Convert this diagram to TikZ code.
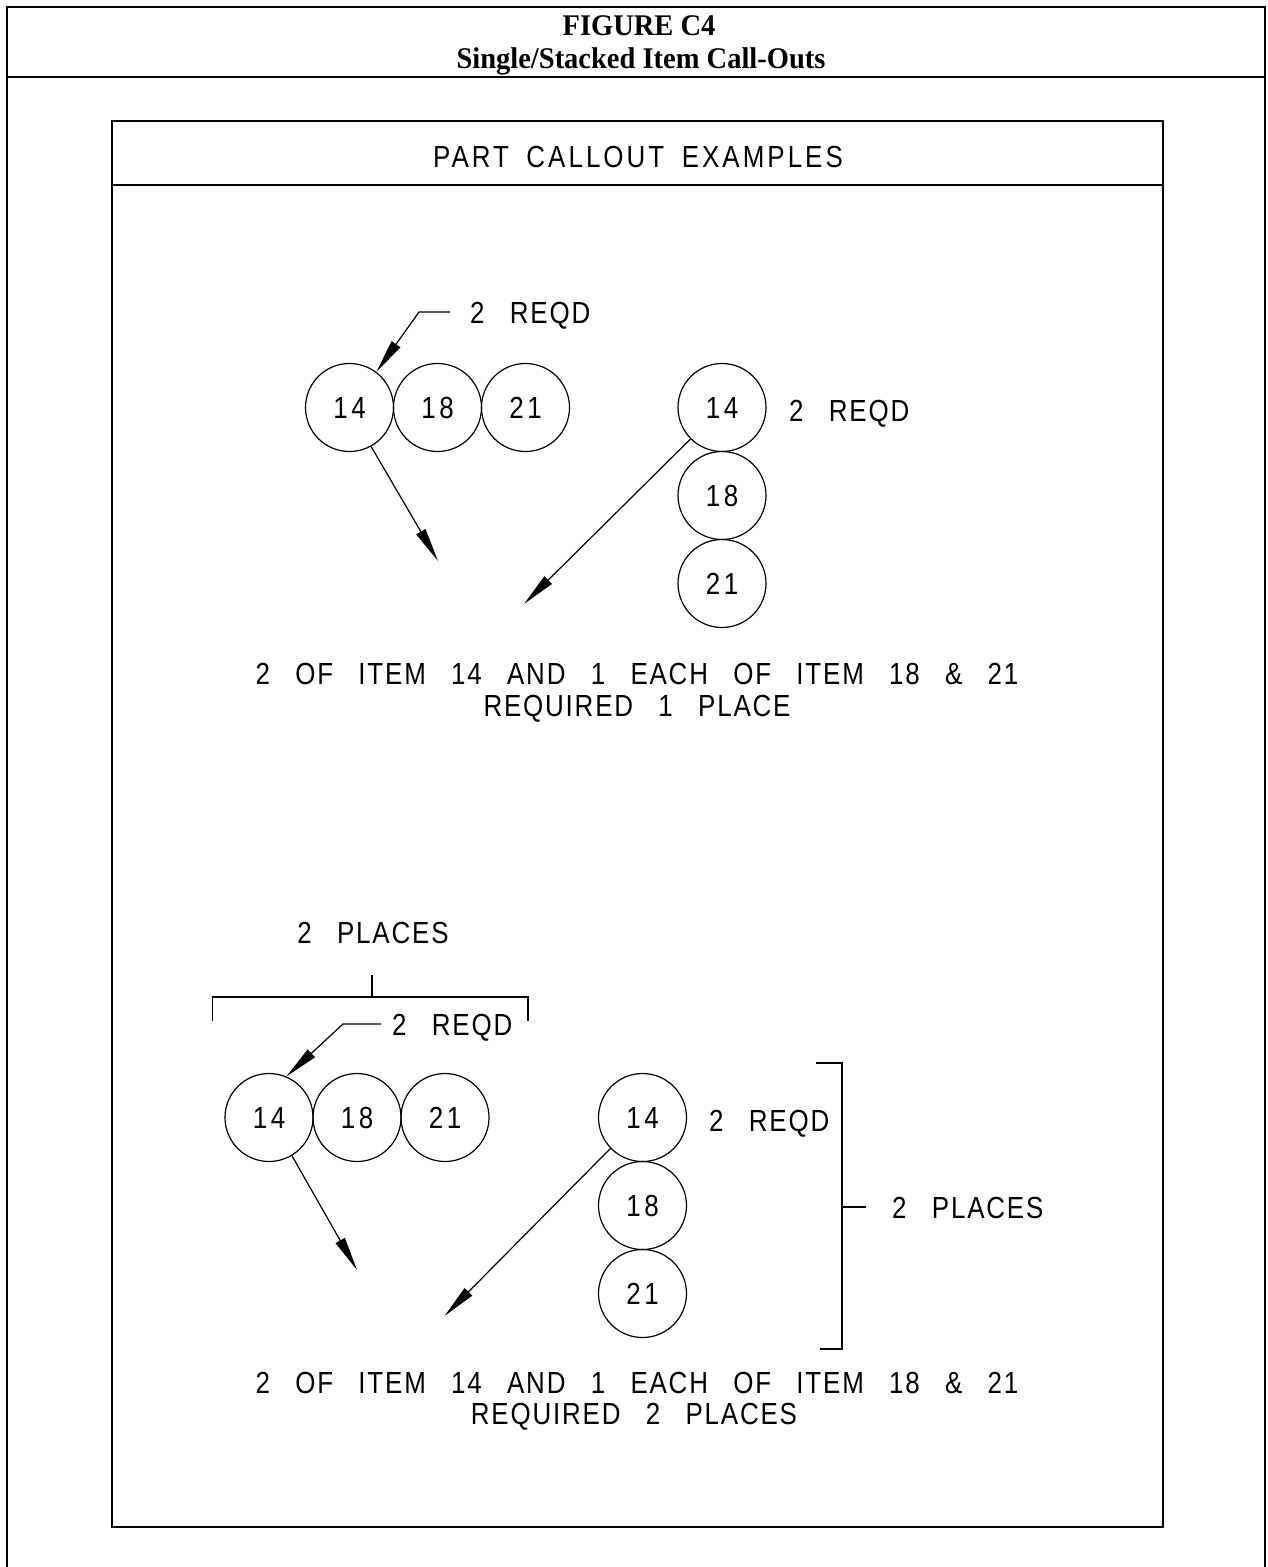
\documentclass[tikz,border=0pt]{standalone}
\usepackage{fontspec}
\setmainfont{Liberation Serif}
\newfontfamily\headfont[FakeStretch=0.95]{Liberation Serif}
\newfontfamily\cad[FakeStretch=0.85,LetterSpace=6,WordSpace=2.8]{Liberation Sans}
\newfontfamily\cadnum[FakeStretch=0.85,LetterSpace=12]{Liberation Sans}
\newfontfamily\cadtitle[FakeStretch=0.85,LetterSpace=10,WordSpace=1.7]{Liberation Sans}
\usetikzlibrary{arrows.meta}
\begin{document}
\begin{tikzpicture}[x=1pt,y=-1pt,
  frame/.style={line width=2pt},
  box/.style={line width=1.6pt},
  item/.style={circle,draw,line width=1.2pt,minimum size=88pt,inner sep=0pt,font=\cadnum\fontsize{30.5}{30.5}\selectfont},
  lbl/.style={inner sep=0pt,font=\cad\fontsize{30.5}{30.5}\selectfont},
  ttl/.style={inner sep=0pt,font=\cadtitle\fontsize{30.5}{30.5}\selectfont},
  lead/.style={line width=1.2pt},
  arr/.style={line width=1.2pt,-{Triangle[length=34pt,width=10.5pt]}},
  head/.style={inner sep=0pt,font=\headfont\bfseries\fontsize{30}{32}\selectfont}]

\useasboundingbox (0,0) rectangle (1267,1567);
\fill[white] (0,0) rectangle (1267,1567);

% outer frame
\draw[frame] (7,1567) -- (7,7) -- (1265,7) -- (1265,1567);
\draw[frame] (7,77) -- (1265,77);
\node[head,anchor=base] (fig) at (639,35) {FIGURE C4};
\node[head,anchor=base] (sub) at (641,68) {Single/Stacked Item Call-Outs};

% inner box
\draw[box] (112,121) rectangle (1163,1527);
\draw[box] (112,185) -- (1163,185);
\node[ttl,anchor=base] (pce) at (638,167) {PART CALLOUT EXAMPLES};

% ---------- top example ----------
\node[item] (c14a) at (349.5,407.5) {14};
\node[item] (c18a) at (437.5,407.5) {18};
\node[item] (c21a) at (525.5,407.5) {21};
\node[lbl,anchor=base west] (rqa) at (470,323.5) {2 REQD};
\coordinate (la1) at (450,312);
\coordinate (la2) at (419,312);
\draw[arr] (la1) -- (la2) -- (c14a.53);
\coordinate (pa) at (438,561);
\draw[arr] (c14a.-61) -- (pa);

\node[item] (s14a) at (722,407.5) {14};
\node[item] (s18a) at (722,495.5) {18};
\node[item] (s21a) at (722,583.5) {21};
\node[lbl,anchor=base west] (rqa2) at (789,421) {2 REQD};
\coordinate (qa) at (524,604);
\draw[arr] (s14a.-135) -- (qa);

\node[lbl,anchor=base] (txa1) at (637,684) {2 OF ITEM 14 AND 1 EACH OF ITEM 18 \& 21};
\node[lbl,anchor=base] (txa2) at (637,716) {REQUIRED 1 PLACE};

% ---------- bottom example ----------
\node[lbl,anchor=base] (plb) at (373,943) {2 PLACES};
\coordinate (tk1) at (372,975);
\coordinate (tk2) at (372,997);
\coordinate (bl1) at (212.5,1021);
\coordinate (bl2) at (212.5,997);
\coordinate (br2) at (528,997);
\coordinate (br1) at (528,1021);
\draw[lead] (tk1) -- (tk2);
\draw[lead] (bl1) -- (bl2) -- (br2) -- (br1);

\node[item] (c14b) at (269,1117.5) {14};
\node[item] (c18b) at (357,1117.5) {18};
\node[item] (c21b) at (445,1117.5) {21};
\node[lbl,anchor=base west] (rqb) at (392,1035) {2 REQD};
\coordinate (lb1) at (381,1024);
\coordinate (lb2) at (343,1024);
\draw[arr] (lb1) -- (lb2) -- (c14b.67);
\coordinate (pb) at (357,1270);
\draw[arr] (c14b.-59) -- (pb);

\node[item] (s14b) at (642.5,1117.5) {14};
\node[item] (s18b) at (642.5,1205.5) {18};
\node[item] (s21b) at (642.5,1293.5) {21};
\node[lbl,anchor=base west] (rqb2) at (709,1131) {2 REQD};
\coordinate (qb) at (444.5,1316);
\draw[arr] (s14b.-136) -- (qb);

\coordinate (rb1) at (816,1063);
\coordinate (rb2) at (842,1063);
\coordinate (rb3) at (842,1349);
\coordinate (rb4) at (820,1349);
\coordinate (rt1) at (842,1207);
\coordinate (rt2) at (866,1207);
\draw[lead] (rb1) -- (rb2) -- (rb3) -- (rb4);
\draw[lead] (rt1) -- (rt2);
\node[lbl,anchor=base west] (plb2) at (892,1218) {2 PLACES};

\node[lbl,anchor=base] (txb1) at (637,1393) {2 OF ITEM 14 AND 1 EACH OF ITEM 18 \& 21};
\node[lbl,anchor=base] (txb2) at (634,1424) {REQUIRED 2 PLACES};
\end{tikzpicture}
\end{document}
